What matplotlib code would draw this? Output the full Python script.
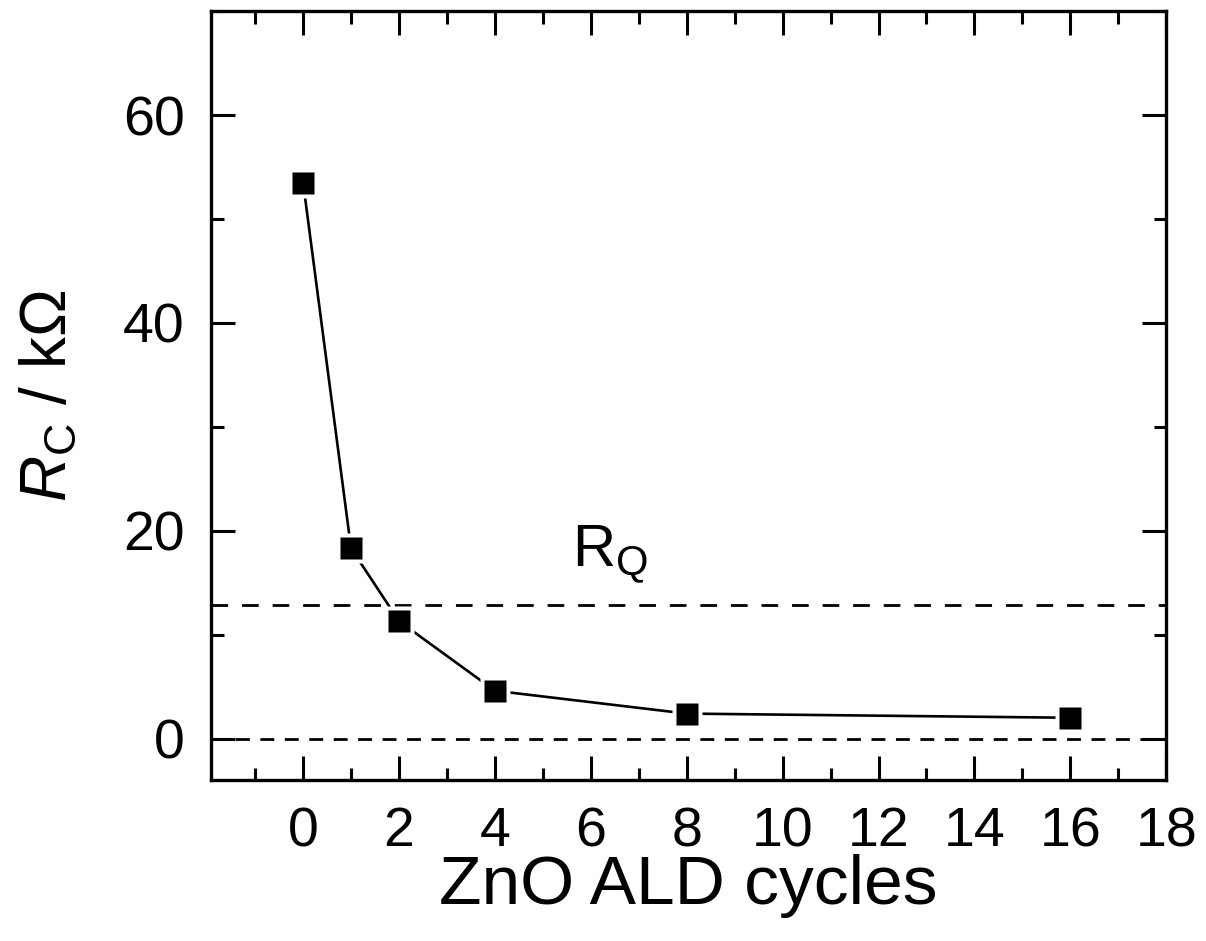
import numpy as np
import matplotlib.pyplot as plt
from matplotlib.ticker import MultipleLocator

plt.rcParams['font.family'] = ['Liberation Sans', 'DejaVu Sans']
plt.rcParams['mathtext.fontset'] = 'custom'
plt.rcParams['mathtext.rm'] = 'Liberation Sans'
plt.rcParams['mathtext.it'] = 'Liberation Sans:italic'

# data
cycles = [0, 1, 2, 4, 8, 16]
rc_kohm = [53.5, 18.3, 11.3, 4.6, 2.4, 2.0]
r_quantum = 12.9
xticks = [0, 2, 4, 6, 8, 10, 12, 14, 16, 18]
yticks = [0, 20, 40, 60]

fig = plt.figure(figsize=(12.06, 9.41), dpi=100)
ax = fig.add_axes([0.175, 0.171, 0.792, 0.817])

ax.plot(cycles, rc_kohm, color='black', lw=1.9, zorder=2)
# white halo round the markers gives the small gaps in the line
ax.plot(cycles, rc_kohm, ls='none', marker='s', ms=22, mfc='white', mec='none', zorder=3)
ax.plot(cycles, rc_kohm, ls='none', marker='s', ms=15.5, mfc='black', mec='none', zorder=4)

ax.axhline(r_quantum, color='black', lw=2.0, dashes=(6, 5), zorder=1)
ax.axhline(0, color='black', lw=2.0, dashes=(5, 3.8), zorder=1)
ax.text(5.6, 16.5, r'R$_{\rm Q}$', fontsize=43)

ax.set_xlim(-1.92, 18)
ax.set_ylim(-4, 70)
ax.set_xticks(xticks)
ax.set_yticks(yticks)
ax.xaxis.set_minor_locator(MultipleLocator(1))
ax.yaxis.set_minor_locator(MultipleLocator(10))
ax.tick_params(which='both', direction='in', top=True, right=True, width=2.2, labelsize=40)
ax.tick_params(axis='x', pad=19)
ax.tick_params(axis='y', pad=19)
ax.tick_params(which='major', length=17)
ax.tick_params(which='minor', length=9)
for s in ax.spines.values():
    s.set_linewidth(2.4)

ax.set_xlabel('ZnO ALD cycles', fontsize=50, labelpad=-3)
ax.set_ylabel(r'$R_{\rm C}$ / k$\Omega$', fontsize=46, labelpad=32)

fig.savefig('out.png', dpi=100)
